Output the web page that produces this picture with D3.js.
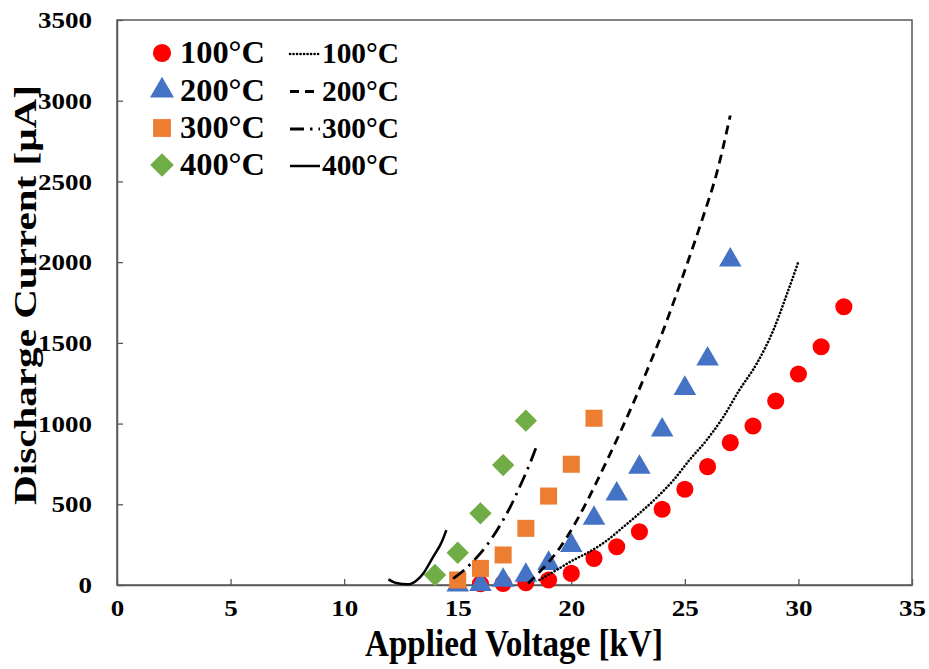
<!DOCTYPE html>
<html>
<head>
<meta charset="utf-8">
<script src="https://cdn.jsdelivr.net/npm/d3@7"></script>
<style>
  body { margin: 0; background: #fff; }
</style>
</head>
<body>
<div id="chart"></div>
<script>
// measured points (voltage kV, current uA)
var volt100 = [16, 17, 18, 19, 20, 21, 22, 23, 24, 25, 26, 27, 28, 29, 30, 31, 32];
var cur100 = [8, 10, 15, 31, 72, 165, 237, 330, 469, 593, 733, 882, 985, 1140, 1307, 1476, 1724];
var volt200 = [15, 16, 17, 18, 19, 20, 21, 22, 23, 24, 25, 26, 27];
var cur200 = [0, 3, 30, 60, 134, 245, 413, 564, 729, 960, 1218, 1400, 2013];
var volt300 = [15, 16, 17, 18, 19, 20, 21];
var cur300 = [31, 103, 186, 351, 551, 748, 1033];
var volt400 = [14, 15, 16, 17, 18];
var cur400 = [62, 200, 444, 743, 1018];

// fitted curves
var fitV100 = [18.6, 19.35, 20.1, 20.8, 21.6, 22.3, 23.0, 23.8, 24.5, 25.2, 25.96, 26.7, 27.4, 28.17, 28.9, 29.48, 30.0];
var fitI100 = [31, 93, 155, 206, 279, 361, 444, 547, 650, 774, 898, 1043, 1208, 1373, 1580, 1797, 2003];
var fitV200 = [18.1, 18.6, 19.2, 19.8, 20.4, 21.0, 21.6, 22.2, 22.8, 23.4, 24.0, 24.6, 25.2, 25.8, 26.4, 27.0];
var fitI200 = [10, 80, 175, 295, 440, 605, 780, 960, 1150, 1350, 1560, 1790, 2030, 2280, 2550, 2910];
var fitV300 = [14.8, 15.3, 15.8, 16.3, 16.8, 17.3, 17.8, 18.2, 18.5];
var fitI300 = [40, 95, 165, 250, 355, 480, 630, 760, 870];
var fitV400 = [11.95, 12.3, 12.8, 13.2, 13.5, 13.9, 14.3, 14.5];
var fitI400 = [35, 12, 4, 30, 75, 170, 268, 340];

var xTicks = [0, 5, 10, 15, 20, 25, 30, 35];
var yTicks = [0, 500, 1000, 1500, 2000, 2500, 3000, 3500];
var labels = ['100\u00b0C', '200\u00b0C', '300\u00b0C', '400\u00b0C'];

var FONT = '"Liberation Serif", "Times New Roman", Tinos, serif';

var width = 929, height = 669;
var margin = { top: 20, right: 17, bottom: 84, left: 117 };
var w = width - margin.left - margin.right;
var h = height - margin.top - margin.bottom;

var svg = d3.select('#chart').append('svg')
    .attr('width', width)
    .attr('height', height)
    .style('font-family', FONT)
    .style('font-weight', 'bold');

var g = svg.append('g')
    .attr('transform', 'translate(' + margin.left + ',' + margin.top + ')');

var x = d3.scaleLinear().domain([0, 35]).range([0, w]);
var y = d3.scaleLinear().domain([0, 3500]).range([h, 0]);

// frame
g.append('rect')
  .attr('width', w).attr('height', h)
  .attr('fill', 'none').attr('stroke', '#595959').attr('stroke-width', 1.5);

var xAxis = d3.axisBottom(x).tickValues(xTicks).tickSizeInner(-6).tickSizeOuter(0).tickPadding(14);
var yAxis = d3.axisLeft(y).tickValues(yTicks).tickFormat(d3.format('d'))
    .tickSizeInner(-6).tickSizeOuter(0).tickPadding(25);

function styleAxis(s) {
  s.attr('font-family', null).attr('font-size', null);
  s.select('.domain').attr('stroke', '#595959').attr('stroke-width', 1.5);
  s.selectAll('line').attr('stroke', '#595959').attr('stroke-width', 1.3);
  s.selectAll('text')
    .style('font-family', FONT)
    .style('font-weight', 'bold')
    .attr('font-size', 24)
    .attr('fill', '#000')
    .attr('textLength', function () { return this.textContent.length * 13.5; })
    .attr('lengthAdjust', 'spacingAndGlyphs');
}

g.append('g')
  .attr('transform', 'translate(0,' + h + ')')
  .call(xAxis)
  .call(styleAxis);

g.append('g')
  .call(yAxis)
  .call(styleAxis);

// axis titles, stretched to the reference widths
function stretchedText(parent, str, size, target, tf) {
  var t = parent.append('text')
    .attr('text-anchor', 'middle')
    .attr('font-size', size)
    .text(str);
  var natural = t.node().getComputedTextLength();
  t.attr('transform', tf + ' scale(' + (target / natural) + ',1)');
  return t;
}

stretchedText(svg, 'Applied Voltage [kV]', 37, 298, 'translate(514,656)');
stretchedText(svg, 'Discharge Current [\u03bcA]', 31, 420, 'translate(36,295) rotate(-90)');

// markers
function zip(vs, is) {
  return vs.map(function (v, i) { return { v: v, i: is[i] }; });
}

var series = [
  { data: zip(volt100, cur100), color: '#ff0000', shape: d3.symbolCircle, size: 230, rot: 0 },
  { data: zip(volt200, cur200), color: '#4472c4', shape: d3.symbolTriangle, size: 220, rot: 0 },
  { data: zip(volt300, cur300), color: '#ed7d31', shape: d3.symbolSquare, size: 290, rot: 0 },
  { data: zip(volt400, cur400), color: '#70ad47', shape: d3.symbolSquare, size: 250, rot: 45 }
];

series.forEach(function (s) {
  g.append('g').selectAll('path')
    .data(s.data)
    .enter()
    .append('path')
    .attr('transform', function (d) {
      return 'translate(' + x(d.v) + ',' + y(d.i) + ') rotate(' + s.rot + ')';
    })
    .attr('d', d3.symbol().type(s.shape).size(s.size))
    .attr('fill', s.color);
});

// fit lines
var fits = [
  { data: zip(fitV100, fitI100), dash: '0.1,3.4', width: 2.6, cap: 'round' },
  { data: zip(fitV200, fitI200), dash: '9,6', width: 2.8, cap: 'butt' },
  { data: zip(fitV300, fitI300), dash: '14,6,2.5,6', width: 2.8, cap: 'butt' },
  { data: zip(fitV400, fitI400), dash: null, width: 2.5, cap: 'butt' }
];

var line = d3.line()
    .x(function (d) { return x(d.v); })
    .y(function (d) { return y(d.i); })
    .curve(d3.curveMonotoneX);

fits.forEach(function (f) {
  g.append('path')
    .attr('d', line(f.data))
    .attr('fill', 'none')
    .attr('stroke', '#000')
    .attr('stroke-width', f.width)
    .attr('stroke-linecap', f.cap)
    .attr('stroke-dasharray', f.dash);
});

// legend
var legend = svg.append('g');
var rowY = [53, 90.5, 128, 165];

series.forEach(function (s, i) {
  legend.append('path')
    .attr('transform', 'translate(162,' + rowY[i] + ') rotate(' + s.rot + ')')
    .attr('d', d3.symbol().type(s.shape).size(s.size + 30))
    .attr('fill', s.color);
  legend.append('text')
    .attr('x', 180).attr('y', rowY[i] + 10)
    .attr('font-size', 31)
    .attr('textLength', 85).attr('lengthAdjust', 'spacingAndGlyphs')
    .text(labels[i]);
});

fits.forEach(function (f, i) {
  legend.append('line')
    .attr('x1', 290).attr('x2', 320)
    .attr('y1', rowY[i] + 1).attr('y2', rowY[i] + 1)
    .attr('stroke', '#000')
    .attr('stroke-width', f.width)
    .attr('stroke-linecap', f.cap)
    .attr('stroke-dasharray', f.dash);
  legend.append('text')
    .attr('x', 322).attr('y', rowY[i] + 10)
    .attr('font-size', 29)
    .attr('textLength', 77).attr('lengthAdjust', 'spacingAndGlyphs')
    .text(labels[i]);
});
</script>
</body>
</html>
